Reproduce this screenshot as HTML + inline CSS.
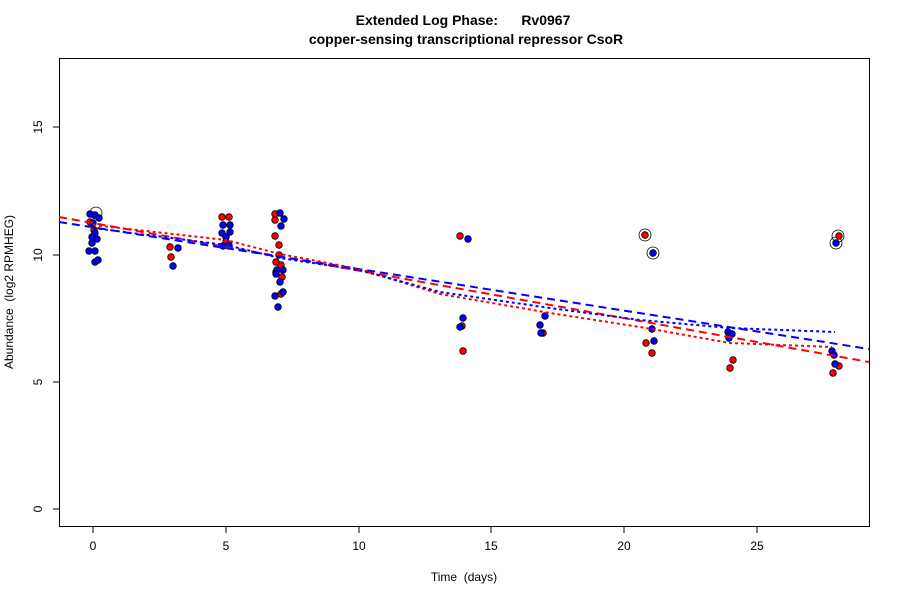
<!DOCTYPE html><html><head><style>body{margin:0;background:#fff}svg{font-family:"Liberation Sans",sans-serif}text{white-space:pre}</style></head><body>
<svg width="900" height="600" xmlns="http://www.w3.org/2000/svg" xml:space="preserve">
<text x="463" y="25" text-anchor="middle" font-size="14" font-weight="bold">Extended Log Phase:      Rv0967</text>
<text x="466" y="44" text-anchor="middle" font-size="14" font-weight="bold">copper-sensing transcriptional repressor CsoR</text>
<rect x="59.5" y="58.5" width="810" height="468" fill="none" stroke="#000"/>
<g stroke="#000" font-size="12">
<line x1="93" y1="527" x2="93" y2="533"/><line x1="226" y1="527" x2="226" y2="533"/><line x1="359" y1="527" x2="359" y2="533"/><line x1="491" y1="527" x2="491" y2="533"/><line x1="624" y1="527" x2="624" y2="533"/><line x1="757" y1="527" x2="757" y2="533"/>
<line x1="53" y1="509" x2="59" y2="509"/><line x1="53" y1="382" x2="59" y2="382"/><line x1="53" y1="255" x2="59" y2="255"/><line x1="53" y1="127" x2="59" y2="127"/>
</g>
<g font-size="12" text-anchor="middle">
<text x="93" y="550">0</text><text x="226" y="550">5</text><text x="359" y="550">10</text><text x="491" y="550">15</text><text x="624" y="550">20</text><text x="757" y="550">25</text>
<text x="464" y="581">Time  (days)</text>
<text transform="translate(42,509) rotate(-90)">0</text><text transform="translate(42,382) rotate(-90)">5</text><text transform="translate(42,255) rotate(-90)">10</text><text transform="translate(42,127) rotate(-90)">15</text>
<text transform="translate(13,292) rotate(-90)">Abundance  (log2 RPMHEG)</text>
</g>
<g fill="none" stroke="#000" stroke-width="0.8">
<circle cx="96" cy="213" r="6"/><circle cx="645" cy="235" r="6"/><circle cx="653" cy="253" r="6"/><circle cx="838" cy="236" r="6"/><circle cx="836" cy="243" r="6"/>
</g>
<g stroke="#000" stroke-width="0.8">
<g fill="#f00">
<circle cx="90" cy="222" r="3.3"/><circle cx="94" cy="230" r="3.3"/><circle cx="170" cy="247" r="3.3"/><circle cx="171" cy="257" r="3.3"/><circle cx="222" cy="217" r="3.3"/><circle cx="229" cy="217" r="3.3"/><circle cx="226" cy="242" r="3.3"/>
<circle cx="275" cy="236" r="3.3"/><circle cx="275" cy="220" r="3.3"/><circle cx="279" cy="245" r="3.3"/><circle cx="279" cy="255" r="3.3"/><circle cx="276" cy="262" r="3.3"/><circle cx="281" cy="265" r="3.3"/><circle cx="276" cy="272" r="3.3"/><circle cx="282" cy="277" r="3.3"/><circle cx="281" cy="294" r="3.3"/><circle cx="275" cy="214" r="3.3"/>
<circle cx="460" cy="236" r="3.3"/><circle cx="462" cy="326" r="3.3"/><circle cx="463" cy="351" r="3.3"/><circle cx="543" cy="333" r="3.3"/><circle cx="646" cy="343" r="3.3"/><circle cx="652" cy="353" r="3.3"/><circle cx="733" cy="360" r="3.3"/><circle cx="730" cy="368" r="3.3"/><circle cx="839" cy="366" r="3.3"/><circle cx="833" cy="373" r="3.3"/><circle cx="645" cy="235" r="3.3"/><circle cx="839" cy="236" r="3.3"/>
</g>
<g fill="#00f">
<circle cx="90" cy="214" r="3.3"/><circle cx="95" cy="215" r="3.3"/><circle cx="99" cy="218" r="3.3"/><circle cx="93" cy="223" r="3.3"/><circle cx="95" cy="233" r="3.3"/><circle cx="92" cy="237" r="3.3"/><circle cx="97" cy="239" r="3.3"/><circle cx="92" cy="243" r="3.3"/><circle cx="89" cy="251" r="3.3"/><circle cx="95" cy="251" r="3.3"/><circle cx="95" cy="262" r="3.3"/><circle cx="98" cy="260" r="3.3"/>
<circle cx="178" cy="248" r="3.3"/><circle cx="173" cy="266" r="3.3"/><circle cx="223" cy="225" r="3.3"/><circle cx="230" cy="225" r="3.3"/><circle cx="222" cy="233" r="3.3"/><circle cx="230" cy="232" r="3.3"/><circle cx="226" cy="237" r="3.3"/><circle cx="223" cy="246" r="3.3"/><circle cx="229" cy="245" r="3.3"/>
<circle cx="280" cy="213" r="3.3"/><circle cx="284" cy="219" r="3.3"/><circle cx="281" cy="226" r="3.3"/><circle cx="277" cy="270" r="3.3"/><circle cx="283" cy="270" r="3.3"/><circle cx="276" cy="274" r="3.3"/><circle cx="280" cy="282" r="3.3"/><circle cx="283" cy="292" r="3.3"/><circle cx="275" cy="296" r="3.3"/><circle cx="278" cy="307" r="3.3"/>
<circle cx="468" cy="239" r="3.3"/><circle cx="463" cy="318" r="3.3"/><circle cx="460" cy="327" r="3.3"/><circle cx="540" cy="325" r="3.3"/><circle cx="545" cy="316" r="3.3"/><circle cx="541" cy="333" r="3.3"/><circle cx="652" cy="329" r="3.3"/><circle cx="654" cy="341" r="3.3"/><circle cx="728" cy="332" r="3.3"/><circle cx="732" cy="334" r="3.3"/><circle cx="729" cy="338" r="3.3"/><circle cx="832" cy="351" r="3.3"/><circle cx="834" cy="355" r="3.3"/><circle cx="835" cy="364" r="3.3"/><circle cx="653" cy="253" r="3.3"/><circle cx="836" cy="243" r="3.3"/>
</g></g>
<g fill="none" stroke-width="2">
<line x1="59" y1="217" x2="869" y2="362" stroke="#f00" stroke-dasharray="8,5"/>
<line x1="59" y1="222" x2="869" y2="349" stroke="#00f" stroke-dasharray="8,5"/>
<polyline points="93,225 226,240 280,254 359,269 440,294 550,313 640,327 730,343 832,347" stroke="#f00" stroke-dasharray="3,3"/>
<polyline points="93,228 226,245 280,258 359,270 440,292 550,308 640,320 730,328 835,332" stroke="#00f" stroke-dasharray="3,3"/>
</g>
</svg></body></html>
